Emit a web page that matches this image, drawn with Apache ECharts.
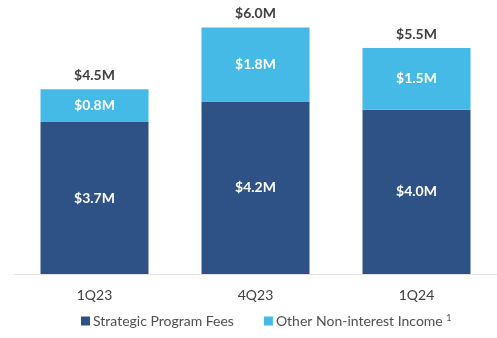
<!DOCTYPE html>
<html>
<head>
<meta charset="utf-8">
<script src="https://cdn.jsdelivr.net/npm/echarts@6/dist/echarts.min.js"></script>
<style>
  html, body { margin: 0; padding: 0; background: #fff; }
  #chart { width: 497px; height: 338px; }
</style>
</head>
<body>
<div id="chart"></div>
<script>
// Quarterly non-interest income, $ millions
const quarters = ['1Q23', '4Q23', '1Q24'];
const programFees = [3.7, 4.2, 4.0];
const otherIncome = [0.8, 1.8, 1.5];
const seriesNames = ['Strategic Program Fees', 'Other Non-interest Income'];
const footnoteMark = '1';

const totals = quarters.map((_, i) => +(programFees[i] + otherIncome[i]).toFixed(1));
const money = v => '$' + v.toFixed(1) + 'M';

const FONT = 'Lato';
const DARK = '#2F5286';
const LIGHT = '#45BAE6';

const chart = echarts.init(document.getElementById('chart'), null, { renderer: 'canvas' });
chart.setOption({
  animation: false,
  textStyle: { fontFamily: FONT },
  grid: { left: 14, width: 486, top: 7, bottom: 64 },
  xAxis: {
    type: 'category',
    data: quarters,
    axisLine: { lineStyle: { color: '#E3E3E3', width: 1 } },
    axisTick: { show: false },
    axisLabel: { color: '#404040', fontSize: 14, fontFamily: FONT, margin: 14 }
  },
  yAxis: {
    type: 'value',
    min: 0,
    max: 6.5,
    show: false,
    splitLine: { show: false }
  },
  legend: {
    bottom: 5,
    left: 76,
    itemWidth: 9,
    itemHeight: 9,
    itemGap: 30,
    icon: 'rect',
    formatter: name => name === seriesNames[1] ? name + ' {sup|' + footnoteMark + '}' : name,
    textStyle: {
      color: '#505050', fontSize: 14, fontFamily: FONT, padding: [0, 0, 0, -2],
      rich: {
        sup: { fontSize: 9, color: '#505050', fontFamily: FONT, verticalAlign: 'top', padding: [0, 0, 6, 0] }
      }
    },
    data: seriesNames
  },
  series: [
    {
      name: seriesNames[0],
      type: 'bar',
      stack: 'income',
      barWidth: 108,
      itemStyle: { color: DARK },
      label: {
        show: true,
        position: 'inside',
        color: '#fff',
        fontWeight: 'bold',
        fontSize: 14,
        fontFamily: FONT,
        formatter: p => money(p.value)
      },
      data: programFees
    },
    {
      name: seriesNames[1],
      type: 'bar',
      stack: 'income',
      barWidth: 108,
      itemStyle: { color: LIGHT },
      label: {
        show: true,
        position: 'inside',
        color: '#fff',
        fontWeight: 'bold',
        fontSize: 14,
        fontFamily: FONT,
        formatter: p => money(p.value)
      },
      data: otherIncome
    },
    {
      // zero-height carrier for the stacked totals
      name: 'total',
      type: 'bar',
      stack: 'income',
      barWidth: 108,
      itemStyle: { color: 'transparent' },
      label: {
        show: true,
        position: 'top',
        distance: 7,
        color: '#404040',
        fontWeight: 'bold',
        fontSize: 14,
        fontFamily: FONT,
        formatter: p => money(totals[p.dataIndex])
      },
      data: totals.map(() => 0),
      tooltip: { show: false }
    }
  ]
});
</script>
</body>
</html>
